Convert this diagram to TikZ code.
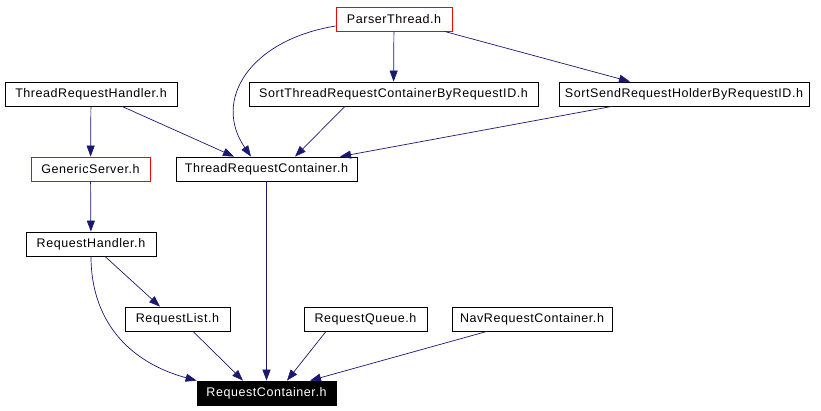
\documentclass[tikz,border=0pt]{standalone}
\usepackage{fontspec}
\setmainfont{Liberation Sans}
\newfontfamily\hdrfont{Liberation Sans}[LetterSpace=4.5]
\usetikzlibrary{arrows.meta}
\definecolor{depblue}{RGB}{25, 25, 112}

\tikzset{
    header/.style={draw=black, line width=0.8pt, fill=white, minimum height=24pt,
        inner sep=0pt, font=\hdrfont\fontsize{12.5}{14}\selectfont},
    redheader/.style={header, draw=red},
    rootheader/.style={header, fill=black, text=white},
    dep/.style={draw=depblue, line width=0.7pt, -{Triangle[length=11pt,width=8pt]}}
}

\begin{document}
\begin{tikzpicture}[x=1pt, y=-1pt]
    \useasboundingbox[fill=white] (0,0) rectangle (821,411);

    % headers
    \node[redheader, minimum width=116pt] (parser) at (394,19) {ParserThread.h};
    \node[header, minimum width=172pt] (handler) at (91,94) {ThreadRequestHandler.h};
    \node[header, minimum width=289pt] (sortthread) at (393.5,94) {SortThreadRequestContainerByRequestID.h};
    \node[header, minimum width=250pt] (sortsend) at (684,94) {SortSendRequestHolderByRequestID.h};
    \node[redheader, minimum width=119pt] (generic) at (90.5,169) {GenericServer.h};
    \node[header, minimum width=181pt] (trcontainer) at (266.5,169) {ThreadRequestContainer.h};
    \node[header, minimum width=130pt] (reqhandler) at (91,244) {RequestHandler.h};
    \node[header, minimum width=105pt] (reqlist) at (177.5,319) {RequestList.h};
    \node[header, minimum width=123pt] (reqqueue) at (365.5,319) {RequestQueue.h};
    \node[header, minimum width=160pt] (navcontainer) at (532,319) {NavRequestContainer.h};
    \node[rootheader, minimum width=139pt] (container) at (266.5,393) {RequestContainer.h};

    % includes
    \draw[dep] (parser.west |- 0,26) .. controls (250,40) and (212,100) .. (trcontainer.north -| 251,0);
    \draw[dep] (parser) -- (sortthread);
    \draw[dep] (parser.south east) ++(-8,0) -- (sortsend.north -| 630,0);
    \draw[dep] (handler) -- (generic);
    \draw[dep] (handler.south -| 122,0) -- (trcontainer.north -| 234,0);
    \draw[dep] (sortthread.south -| 345,0) -- (trcontainer.north -| 295,0);
    \draw[dep] (sortsend.south -| 612,0) -- (trcontainer.north -| 340,0);
    \draw[dep] (generic) -- (reqhandler);
    \draw[dep] (trcontainer) -- (container);
    \draw[dep] (reqhandler.south -| 105,0) -- (reqlist.north -| 160,0);
    \draw[dep] (reqhandler.south) .. controls (91,320) and (128,362) .. (container.north west);
    \draw[dep] (reqlist.south -| 193,0) -- (container.north -| 243,0);
    \draw[dep] (reqqueue.south -| 326,0) -- (container.north -| 287,0);
    \draw[dep] (navcontainer.south -| 487,0) -- (container.north -| 310,0);
\end{tikzpicture}
\end{document}
